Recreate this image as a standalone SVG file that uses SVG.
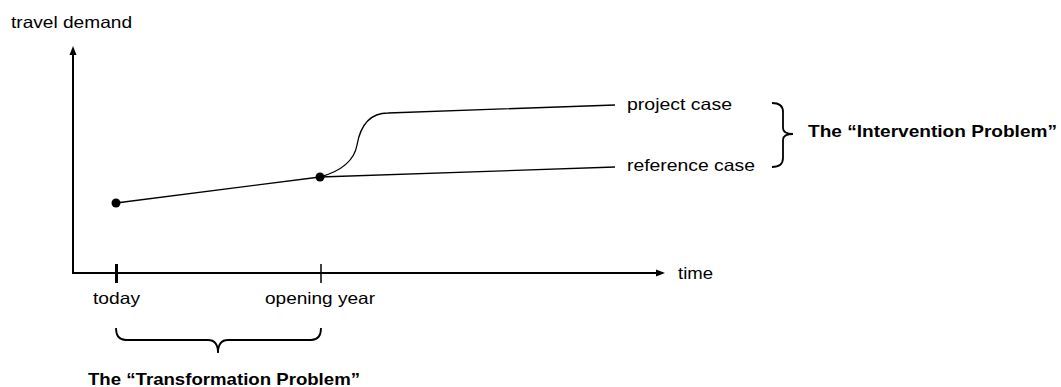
<svg xmlns="http://www.w3.org/2000/svg" width="1061" height="387" viewBox="0 0 1061 387">
<defs>
<style>
text{font-family:"Liberation Sans",Arial,sans-serif;font-size:16.5px;fill:#000}
.b{font-weight:bold}
.ln{fill:none;stroke:#000;stroke-width:1.3}
.ax{fill:none;stroke:#000;stroke-width:2}
.br{fill:none;stroke:#000;stroke-width:1.8}
</style>
</defs>
<rect width="1061" height="387" fill="#fff"/>
<g id="axes">
<path class="ax" d="M73,273 V54"/>
<path d="M73,46 L69.5,55 L76.5,55 Z" fill="#000"/>
<path class="ax" d="M72,273 H656"/>
<path d="M665,273 L656,269.5 L656,276.5 Z" fill="#000"/>
<path d="M116.5,264 V283" stroke="#000" stroke-width="3"/>
<path d="M321,264 V283" stroke="#000" stroke-width="1.5"/>
<text x="11" y="28" textLength="121" lengthAdjust="spacingAndGlyphs">travel demand</text>
<text x="678" y="279" textLength="35" lengthAdjust="spacingAndGlyphs">time</text>
<text x="93" y="304" textLength="47" lengthAdjust="spacingAndGlyphs">today</text>
<text x="265" y="304" textLength="110" lengthAdjust="spacingAndGlyphs">opening year</text>
</g>
<g id="connectors">
<path class="ln" d="M116,203 L320,177"/>
<path class="ln" d="M320,177 L615,167"/>
<path class="ln" d="M320,177 C338,172 354,162 357,145 C360,128 368,113 388,113 L615,105"/>
</g>
<g id="today-point"><circle cx="116" cy="203" r="4.5" fill="#000"/></g>
<g id="opening-point"><circle cx="320" cy="177" r="4.5" fill="#000"/></g>
<g id="project-case"><text x="627" y="110" textLength="105" lengthAdjust="spacingAndGlyphs">project case</text></g>
<g id="reference-case"><text x="627" y="171" textLength="128" lengthAdjust="spacingAndGlyphs">reference case</text></g>
<g id="intervention-problem">
<path class="br" d="M772,103 Q783,103 783,112 L783,128 Q783,134 793,134 Q783,134 783,140 L783,158 Q783,167 772,167"/>
<text class="b" x="808" y="137" textLength="249" lengthAdjust="spacingAndGlyphs">The “Intervention Problem”</text>
</g>
<g id="transformation-problem">
<path class="br" d="M116,328 Q116,340 126,340 L208,340 Q218,340 218,353 Q218,340 228,340 L311,340 Q321,340 321,328"/>
<text class="b" x="88" y="385" textLength="272" lengthAdjust="spacingAndGlyphs">The “Transformation Problem”</text>
</g>
</svg>
